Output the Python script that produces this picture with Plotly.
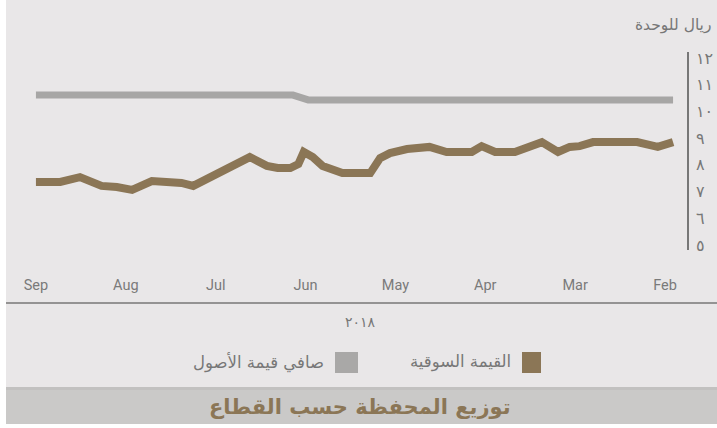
import plotly.graph_objects as go

# ---- data ----
month_labels = ["Feb", "Mar", "Apr", "May", "Jun", "Jul", "Aug", "Sep"]
month_pos = [0, 1, 2, 3, 4, 5, 6, 7]

market_x = [7.0, 6.73, 6.51, 6.27, 6.10, 5.93, 5.71, 5.51, 5.38, 5.25, 4.62, 4.43, 4.31,
            4.17, 4.08, 4.02, 3.92, 3.81, 3.59, 3.39, 3.28, 3.17, 3.06, 2.87, 2.62, 2.43,
            2.15, 2.04, 1.89, 1.67, 1.37, 1.19, 1.06, 0.95, 0.80, 0.31, 0.14, 0.08, -0.09]
market_value = [7.36, 7.36, 7.54, 7.21, 7.17, 7.06, 7.39, 7.39, 7.32, 7.21, 8.29, 7.96, 7.88,
                7.88, 8.03, 8.48, 8.29, 7.96, 7.69, 7.69, 7.69, 8.25, 8.44, 8.59, 8.67, 8.48,
                8.48, 8.70, 8.48, 8.48, 8.85, 8.48, 8.67, 8.70, 8.85, 8.85, 8.67, 8.67, 8.85]

nav_x = [7.0, 4.14, 3.97, -0.09]
nav_value = [10.61, 10.61, 10.43, 10.43]

y_ticks = [5, 6, 7, 8, 9, 10, 11, 12]
y_ticktext = ["٥", "٦", "٧", "٨", "٩", "١٠", "١١", "١٢"]

BROWN = "#8b7656"
GRAY_LINE = "#a7a6a5"
BG = "#e9e7e8"
TXT = "#777777"

W, H = 717, 428

def px(x):
    return x / W

def py(y):
    return 1 - y / H

fig = go.Figure()
fig.add_trace(go.Scatter(x=nav_x, y=nav_value, mode="lines", name="صافي قيمة الأصول",
                         line=dict(color=GRAY_LINE, width=7), showlegend=False,
                         hoverinfo="skip"))
fig.add_trace(go.Scatter(x=market_x, y=market_value, mode="lines", name="القيمة السوقية",
                         line=dict(color=BROWN, width=8), showlegend=False,
                         hoverinfo="skip"))

shapes = [
    dict(type="rect", xref="paper", yref="paper", x0=px(6), x1=1, y0=py(388), y1=1,
         fillcolor=BG, line=dict(width=0), layer="below"),
    dict(type="rect", xref="paper", yref="paper", x0=px(6), x1=1, y0=py(391), y1=py(387),
         fillcolor="#c2c1c0", line=dict(width=0), layer="below"),
    dict(type="rect", xref="paper", yref="paper", x0=px(6), x1=1, y0=py(424), y1=py(390),
         fillcolor="#cac9c8", line=dict(width=0), layer="below"),
    dict(type="line", xref="paper", yref="paper", x0=px(6), x1=1, y0=py(303), y1=py(303),
         line=dict(color="#777777", width=1.5)),
    # legend swatches
    dict(type="rect", xref="paper", yref="paper", x0=px(522), x1=px(541), y0=py(373), y1=py(352),
         fillcolor=BROWN, line=dict(width=0)),
    dict(type="rect", xref="paper", yref="paper", x0=px(335), x1=px(358), y0=py(373), y1=py(352),
         fillcolor="#a9a8a7", line=dict(width=0)),
]

annotations = [
    dict(text="ريال للوحدة", xref="paper", yref="paper", x=px(713), y=py(25),
         xanchor="right", yanchor="middle", showarrow=False,
         font=dict(family="DejaVu Sans", size=15.5, color=TXT)),
    dict(text="٢٠١٨", xref="paper", yref="paper", x=px(360), y=py(322),
         xanchor="center", yanchor="middle", showarrow=False,
         font=dict(family="DejaVu Sans", size=14, color=TXT)),
    dict(text="القيمة السوقية", xref="paper", yref="paper", x=px(513), y=py(362),
         xanchor="right", yanchor="middle", showarrow=False,
         font=dict(family="DejaVu Sans", size=16.5, color=TXT)),
    dict(text="صافي قيمة الأصول", xref="paper", yref="paper", x=px(326), y=py(362),
         xanchor="right", yanchor="middle", showarrow=False,
         font=dict(family="DejaVu Sans", size=16.5, color=TXT)),
    dict(text="<b>توزيع المحفظة حسب القطاع</b>", xref="paper", yref="paper", x=px(360), y=py(407),
         xanchor="center", yanchor="middle", showarrow=False,
         font=dict(family="DejaVu Sans", size=21, color=BROWN)),
]

fig.update_layout(
    width=W, height=H,
    margin=dict(l=0, r=0, t=0, b=0),
    paper_bgcolor="white",
    plot_bgcolor="rgba(0,0,0,0)",
    shapes=shapes,
    annotations=annotations,
    xaxis=dict(domain=[0, 1], range=[7.40, -0.579], tickvals=month_pos, ticktext=month_labels,
               showgrid=False, zeroline=False, showline=False, ticks="",
               tickfont=dict(family="Roboto", size=14.5, color="#7a7a7a"),
               ticklabelstandoff=24, automargin=False, fixedrange=True),
    yaxis=dict(domain=[py(250), py(52)], range=[4.81, 12.225], side="right",
               anchor="free", position=px(688), tickvals=y_ticks, ticktext=y_ticktext,
               showgrid=False, zeroline=False, showline=True, linecolor="#777777", linewidth=1.5,
               ticks="", ticklabelstandoff=4,
               tickfont=dict(family="DejaVu Sans", size=16, color=TXT),
               automargin=False, fixedrange=True),
    showlegend=False,
)

fig.write_html("out.html")
